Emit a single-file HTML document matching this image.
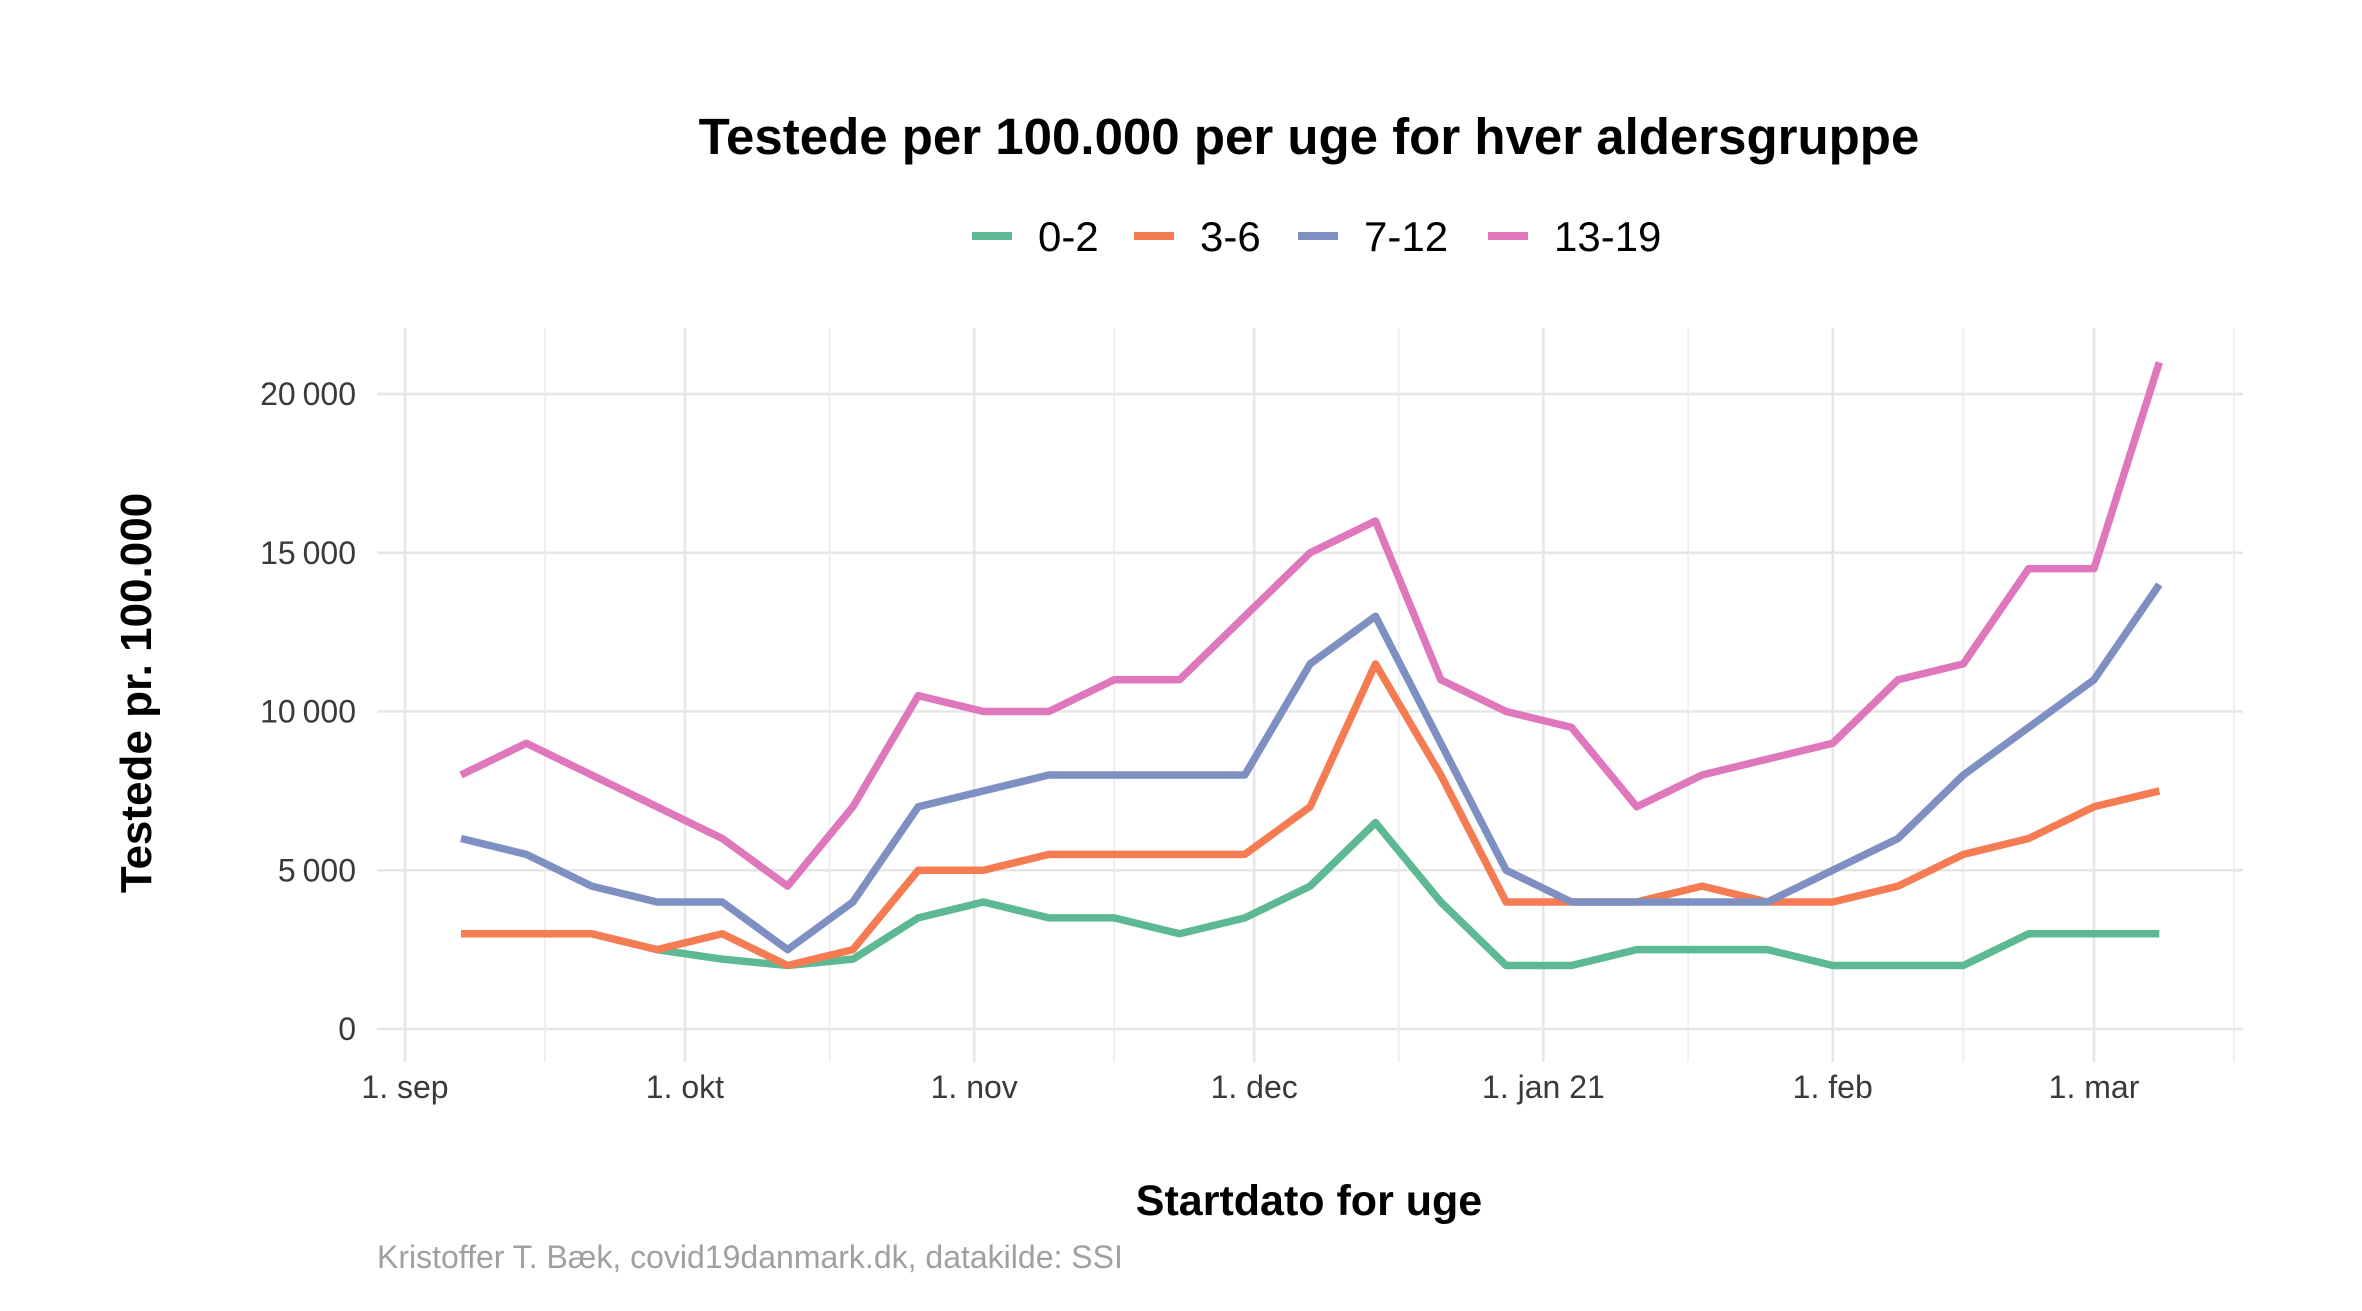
<!DOCTYPE html>
<html><head><meta charset="utf-8"><style>
body{margin:0;background:#fff;}
svg{display:block;font-family:"Liberation Sans",sans-serif;}
</style></head><body>
<svg id="chart" width="2362" height="1311" viewBox="0 0 2362 1311">
<text x="1309" y="154" text-anchor="middle" font-size="51" font-weight="bold" fill="#000">Testede per 100.000 per uge for hver aldersgruppe</text>
<g id="legend"></g>
<g id="grid"></g>
<g id="series"></g>
<text x="1309" y="1215" text-anchor="middle" font-size="43" font-weight="bold" fill="#000">Startdato for uge</text>
<text transform="translate(151,693) rotate(-90)" text-anchor="middle" font-size="44" font-weight="bold" fill="#000">Testede pr. 100.000</text>
<text x="377" y="1268" font-size="32" fill="#a0a0a0">Kristoffer T. Bæk, covid19danmark.dk, datakilde: SSI</text>
</svg>
<script>
const seriesNames = ["0-2","3-6","7-12","13-19"];
const seriesColors = ["#5cb993","#f57c52","#7e8fc2","#df77bc"];
const firstWeekDay = 6; // days after 1 sep 2020 (7 sep)
const weekCount = 27;
const s02 = [3000,3000,3000,2500,2200,2000,2200,3500,4000,3500,3500,3000,3500,4500,6500,4000,2000,2000,2500,2500,2500,2000,2000,2000,3000,3000,3000];
const s36 = [3000,3000,3000,2500,3000,2000,2500,5000,5000,5500,5500,5500,5500,7000,11500,8000,4000,4000,4000,4500,4000,4000,4500,5500,6000,7000,7500];
const s712 = [6000,5500,4500,4000,4000,2500,4000,7000,7500,8000,8000,8000,8000,11500,13000,9000,5000,4000,4000,4000,4000,5000,6000,8000,9500,11000,14000];
const s1319 = [8000,9000,8000,7000,6000,4500,7000,10500,10000,10000,11000,11000,13000,15000,16000,11000,10000,9500,7000,8000,8500,9000,11000,11500,14500,14500,21000];
const yTicks = [0,5000,10000,15000,20000];
const yTickLabels = ["0","5 000","10 000","15 000","20 000"];
const xTickDays = [0,30,61,91,122,153,181];
const xTickLabels = ["1. sep","1. okt","1. nov","1. dec","1. jan 21","1. feb","1. mar"];

const NS="http://www.w3.org/2000/svg";
const px0=377,px1=2243,py0=328,py1=1062;
const x=d=>405+d*(2094-405)/181;
const y=v=>1029-v*(1029-394)/20000;
function mk(tag,attrs,parent){const e=document.createElementNS(NS,tag);for(const k in attrs)e.setAttribute(k,attrs[k]);parent.appendChild(e);return e;}
const grid=document.getElementById('grid');
yTicks.forEach((v,i)=>{
  const l=mk('line',{x1:px0,x2:px1,y1:y(v),y2:y(v),stroke:'#e6e6e6','stroke-width':2.5},grid);
  
  
  const t=mk('text',{x:356,y:y(v)+11,'text-anchor':'end','font-size':32,fill:'#3a3a3a','word-spacing':'-2'},grid);
  t.textContent=yTickLabels[i];
  
  
});
const minorX=[];
for(let i=1;i<xTickDays.length;i++){
  minorX.push((xTickDays[i-1]+xTickDays[i])/2);
}
minorX.push(181+(181-153)/2+1);
minorX.forEach(d=>{
  const l=mk('line',{x1:x(d),x2:x(d),y1:py0,y2:py1,stroke:'#ebebeb','stroke-width':1.5},grid);
  
  
});
xTickDays.forEach((d,i)=>{
  const l=mk('line',{x1:x(d),x2:x(d),y1:py0,y2:py1,stroke:'#e6e6e6','stroke-width':2.5},grid);
  
  
  const t=mk('text',{x:x(d),y:1098,'text-anchor':'middle','font-size':32,fill:'#3a3a3a'},grid);
  t.textContent=xTickLabels[i];
  
  
});
const data=[s02,s36,s712,s1319];
const ser=document.getElementById('series');
data.forEach((arr,si)=>{
  const pts=arr.map((v,i)=>x(firstWeekDay+7*i)+','+y(v)).join(' ');
  const p=mk('polyline',{points:pts,fill:'none',stroke:seriesColors[si],'stroke-width':7.5,'stroke-linejoin':'round'},ser);
  
  
});
const leg=document.getElementById('legend');
const legKeyX=[972,1134,1298,1488];
seriesNames.forEach((n,i)=>{
  const g=mk('g',{},leg);
  
  
  mk('line',{x1:legKeyX[i],x2:legKeyX[i]+40,y1:236,y2:236,stroke:seriesColors[i],'stroke-width':8},g);
  const t=mk('text',{x:legKeyX[i]+66,y:251,'font-size':42,fill:'#000'},g);
  t.textContent=n;
});
</script>
</body></html>
